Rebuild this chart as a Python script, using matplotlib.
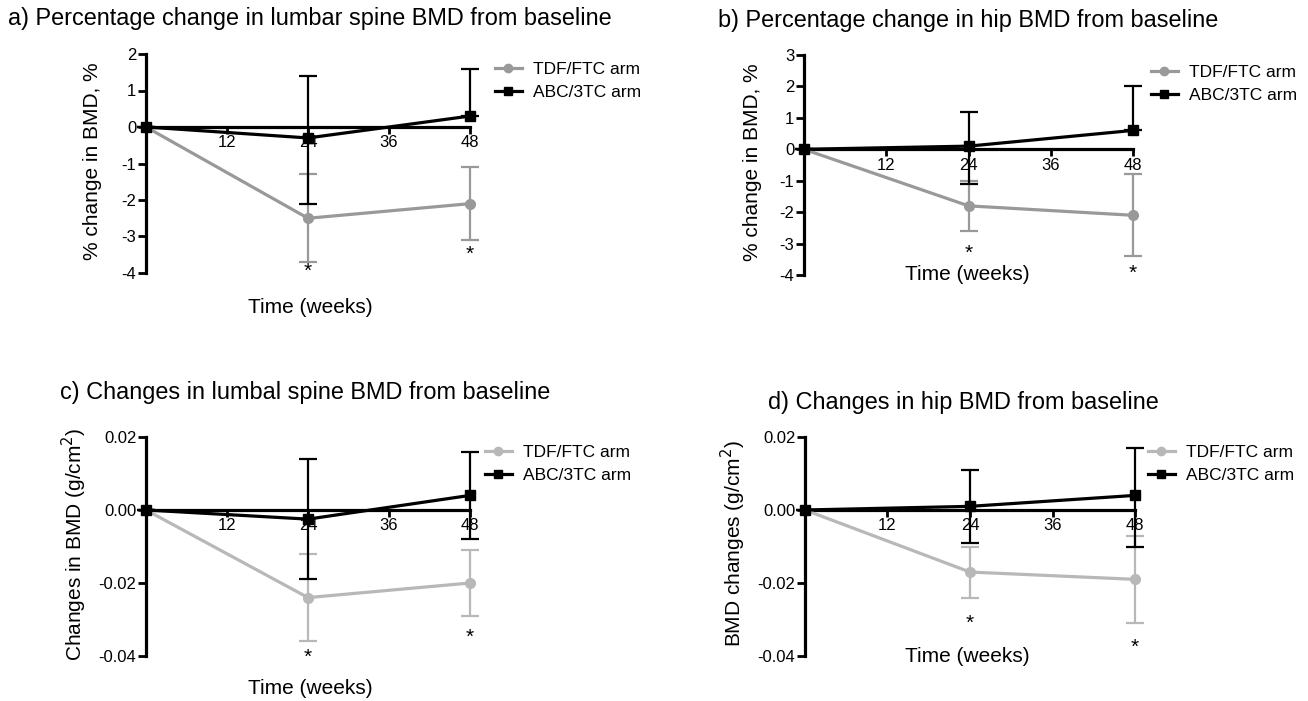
import matplotlib
matplotlib.use("Agg")
import matplotlib.pyplot as plt
from matplotlib.lines import Line2D
import numpy as np

plt.rcParams['font.family'] = ['Liberation Sans', 'DejaVu Sans']
plt.rcParams['axes.unicode_minus'] = False

W, H = 1308, 701

weeks = [0, 24, 48]
xticks = [12, 24, 36, 48]
series_names = ['TDF/FTC arm', 'ABC/3TC arm']

# Panel a: % change lumbar spine
a_tdf = [0, -2.5, -2.1]
a_tdf_lo = [0, -3.7, -3.1]
a_tdf_hi = [0, -1.3, -1.1]
a_abc = [0, -0.3, 0.3]
a_abc_lo = [0, -2.1, 0.3]
a_abc_hi = [0, 1.4, 1.6]
a_stars = [(24, -3.95), (48, -3.5)]

# Panel b: % change hip
b_tdf = [0, -1.8, -2.1]
b_tdf_lo = [0, -2.6, -3.4]
b_tdf_hi = [0, -1.0, -0.8]
b_abc = [0, 0.1, 0.6]
b_abc_lo = [0, -1.1, 0.6]
b_abc_hi = [0, 1.2, 2.0]
b_stars = [(24, -3.3), (48, -3.95)]

# Panel c: absolute change lumbar spine
c_tdf = [0, -0.024, -0.020]
c_tdf_lo = [0, -0.036, -0.029]
c_tdf_hi = [0, -0.012, -0.011]
c_abc = [0, -0.0025, 0.004]
c_abc_lo = [0, -0.019, -0.008]
c_abc_hi = [0, 0.014, 0.016]
c_stars = [(24, -0.0405), (48, -0.035)]

# Panel d: absolute change hip
d_tdf = [0, -0.017, -0.019]
d_tdf_lo = [0, -0.024, -0.031]
d_tdf_hi = [0, -0.010, -0.007]
d_abc = [0, 0.001, 0.004]
d_abc_lo = [0, -0.009, -0.010]
d_abc_hi = [0, 0.011, 0.017]
d_stars = [(24, -0.031), (48, -0.0375)]

fig = plt.figure(figsize=(W / 100, H / 100), dpi=100)


def px_axes(x0, x1, ytop, ybot):
    return fig.add_axes([x0 / W, 1 - ybot / H, (x1 - x0) / W, (ybot - ytop) / H])


def draw(ax, tdf, tlo, thi, abc, alo, ahi, grey, yticks, ylim, ticklabels, stars, leg_xy):
    ax.set_xlim(0, 48)
    ax.set_ylim(*ylim)
    for s in ['top', 'right']:
        ax.spines[s].set_visible(False)
    ax.spines['bottom'].set_position(('data', 0))
    ax.spines['left'].set_linewidth(2.3)
    ax.spines['bottom'].set_linewidth(2.3)
    ax.set_xticks(xticks)
    ax.set_xticklabels([str(t) for t in xticks], fontsize=12)
    ax.set_yticks(yticks)
    ax.set_yticklabels(ticklabels, fontsize=12)
    ax.tick_params(axis='y', direction='out', length=6, width=2.0, pad=1)
    ax.tick_params(axis='x', direction='out', length=5, width=2.0, pad=1)
    ax.patch.set_visible(False)

    tdf = np.array(tdf); abc = np.array(abc)
    terr = [tdf - np.array(tlo), np.array(thi) - tdf]
    aerr = [abc - np.array(alo), np.array(ahi) - abc]
    ax.errorbar(weeks, tdf, yerr=terr, color=grey, lw=2.3, elinewidth=1.6,
                capsize=6.5, capthick=1.6, marker='o', ms=7, clip_on=False, zorder=3)
    ax.errorbar(weeks, abc, yerr=aerr, color='black', lw=2.3, elinewidth=1.6,
                capsize=6.5, capthick=1.6, marker='s', ms=7, clip_on=False, zorder=4)
    for (sx, sy) in stars:
        ax.text(sx, sy, '*', ha='center', va='center', fontsize=15)
    handles = [Line2D([], [], color=grey, lw=2.3, marker='o', ms=6),
               Line2D([], [], color='black', lw=2.3, marker='s', ms=6)]
    ax.legend(handles, series_names, loc='upper left',
              bbox_to_anchor=(leg_xy[0] / W, 1 - leg_xy[1] / H),
              bbox_transform=fig.transFigure, frameon=False, fontsize=12.5,
              handlelength=1.55, handletextpad=0.65, labelspacing=0.42,
              borderpad=0, borderaxespad=0)


grey_dark = '#999999'
grey_light = '#b8b8b8'

axa = px_axes(146, 470, 54, 273)
draw(axa, a_tdf, a_tdf_lo, a_tdf_hi, a_abc, a_abc_lo, a_abc_hi, grey_dark,
     [-4, -3, -2, -1, 0, 1, 2], (-4, 2), ['-4', '-3', '-2', '-1', '0', '1', '2'],
     a_stars, (495, 62))

axb = px_axes(804, 1133, 55, 275)
draw(axb, b_tdf, b_tdf_lo, b_tdf_hi, b_abc, b_abc_lo, b_abc_hi, grey_dark,
     [-4, -3, -2, -1, 0, 1, 2, 3], (-4, 3), ['-4', '-3', '-2', '-1', '0', '1', '2', '3'],
     b_stars, (1151, 65))

axc = px_axes(146, 470, 437, 656)
draw(axc, c_tdf, c_tdf_lo, c_tdf_hi, c_abc, c_abc_lo, c_abc_hi, grey_light,
     [-0.04, -0.02, 0.0, 0.02], (-0.04, 0.02), ['-0.04', '-0.02', '0.00', '0.02'],
     c_stars, (485, 445))

axd = px_axes(805, 1135, 437, 656)
draw(axd, d_tdf, d_tdf_lo, d_tdf_hi, d_abc, d_abc_lo, d_abc_hi, grey_light,
     [-0.04, -0.02, 0.0, 0.02], (-0.04, 0.02), ['-0.04', '-0.02', '0.00', '0.02'],
     d_stars, (1148, 445))


def ftext(x, y, s, **kw):
    fig.text(x / W, 1 - y / H, s, **kw)


ftext(8, 18, 'a) Percentage change in lumbar spine BMD from baseline', fontsize=16.9, va='center', ha='left')
ftext(718, 20, 'b) Percentage change in hip BMD from baseline', fontsize=16.9, va='center', ha='left')
ftext(60, 392, 'c) Changes in lumbal spine BMD from baseline', fontsize=16.9, va='center', ha='left')
ftext(768, 402, 'd) Changes in hip BMD from baseline', fontsize=16.9, va='center', ha='left')

ftext(93, 161, '% change in BMD, %', fontsize=15, rotation=90, ha='center', va='center')
ftext(752, 162, '% change in BMD, %', fontsize=15, rotation=90, ha='center', va='center')
ftext(74, 544, 'Changes in BMD (g/cm$^2$)', fontsize=15, rotation=90, ha='center', va='center')
ftext(733, 544, 'BMD changes (g/cm$^2$)', fontsize=15, rotation=90, ha='center', va='center')

ftext(310, 308, 'Time (weeks)', fontsize=15, ha='center', va='center')
ftext(967, 275, 'Time (weeks)', fontsize=15, ha='center', va='center')
ftext(310, 688, 'Time (weeks)', fontsize=15, ha='center', va='center')
ftext(967, 657, 'Time (weeks)', fontsize=15, ha='center', va='center')

fig.savefig('out.png', dpi=100)
